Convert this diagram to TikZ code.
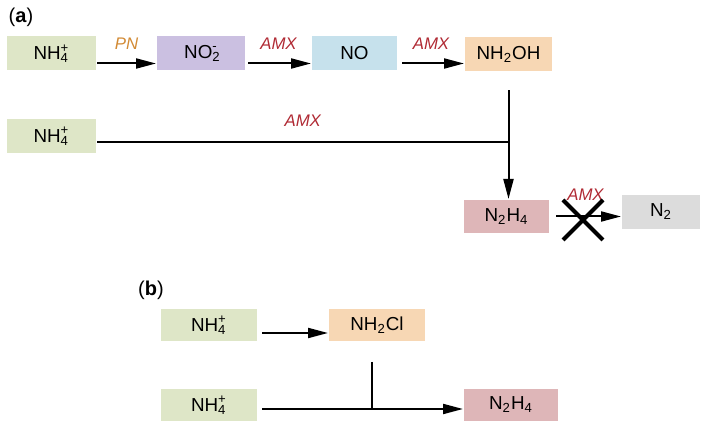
\documentclass[tikz,border=0pt]{standalone}
\usepackage{fontspec}
\setmainfont{Liberation Sans}
\usepackage{tikz}
\usetikzlibrary{positioning,arrows.meta,shapes.misc}

\definecolor{ammgreen}{RGB}{222,230,199}
\definecolor{nitpurple}{RGB}{203,192,225}
\definecolor{noblue}{RGB}{198,225,236}
\definecolor{hydorange}{RGB}{247,215,180}
\definecolor{hzpink}{RGB}{222,182,184}
\definecolor{ntgray}{RGB}{220,220,220}
\definecolor{amxred}{RGB}{176,42,52}
\definecolor{pnorange}{RGB}{210,138,52}

\newcommand{\stk}[2]{\rlap{\textsubscript{#1}}\textsuperscript{#2}}

\begin{document}
\begin{tikzpicture}[
  x=0.5pt, y=-0.5pt,
  chem/.style={minimum width=44pt, minimum height=17pt, inner sep=0pt,
               font=\fontsize{9.4}{11}\selectfont},
  enz/.style={font=\fontsize{8.4}{10}\selectfont\itshape, text=amxred},
  tag/.style={font=\fontsize{10}{12}\selectfont},
  >={Triangle[length=10pt,width=5pt]},
  line width=1pt
]
  \useasboundingbox (0,0) rectangle (703,421);

  % (a)
  \node[tag] (pa) at (21,17) {(\textbf{a})};
  \node[chem, fill=ammgreen, minimum width=44.5pt] (nha) at (51.5,53.5) {NH\stk{4}{+}};
  \node[chem, fill=nitpurple] (noa)  at (201,53.5)   {NO\stk{2}{-}};
  \node[chem, fill=noblue, minimum width=42.5pt] (no) at (354.5,53.5) {NO};
  \node[chem, fill=hydorange, minimum width=43.5pt] (nhoh) at (508.5,54.5) {NH\textsubscript{2}OH};
  \node[chem, fill=ammgreen, minimum width=44.5pt] (nhb) at (51.5,136) {NH\stk{4}{+}};
  \node[chem, fill=hzpink, minimum width=42.5pt, minimum height=16.5pt] (nhh) at (506.5,216.5) {N\textsubscript{2}H\textsubscript{4}};
  \node[chem, fill=ntgray, minimum width=39pt] (ntwo) at (661,212) {N\textsubscript{2}};

  \draw[->] ([yshift=-5pt]nha.east) -- node[above=3pt, enz, text=pnorange] {PN} ([yshift=-5pt]noa.west);
  \draw[->, shorten <=1pt] ([yshift=-5pt]noa.east) -- node[above=3pt, enz] {AMX} ([yshift=-5pt]no.west);
  \draw[->, shorten <=2pt] ([yshift=-5pt]no.east) -- node[above=3pt, enz] {AMX} ([yshift=-5pt]no.east -| nhoh.west);

  \coordinate (ja) at ([yshift=-3pt]nhb.east -| nhoh.south);
  \draw ([yshift=-3pt]nhb.east) -- node[above=4pt, enz] {AMX} (ja);
  \draw[->] ([yshift=-9pt]nhoh.south) -- (nhoh.south |- nhh.north);

  \draw[->, shorten <=3pt] (nhh.east) -- node[above=4pt, enz] {AMX} (nhh.east -| ntwo.west);
  \node[cross out, draw, line width=2pt, minimum size=18pt, inner sep=0pt] (xa) at (583,220) {};

  % (b)
  \node[tag] (pb) at (151,290) {(\textbf{b})};
  \node[chem, fill=ammgreen, minimum width=48pt, minimum height=16pt] (nhc)  at (209,325) {NH\stk{4}{+}};
  \node[chem, fill=hydorange, minimum width=48pt, minimum height=16pt] (nhcl) at (377,325) {NH\textsubscript{2}Cl};
  \node[chem, fill=ammgreen, minimum width=48pt, minimum height=16pt] (nhd)  at (209,405) {NH\stk{4}{+}};
  \node[chem, fill=hzpink, minimum width=47pt, minimum height=16pt] (nhhb) at (511,405) {N\textsubscript{2}H\textsubscript{4}};

  \draw[->, shorten <=2pt] ([yshift=-4pt]nhc.east) -- ([yshift=-4pt]nhcl.west);
  \coordinate (jb) at ([xshift=-2.5pt,yshift=-2pt]nhcl.south |- nhd.east);
  \draw ([xshift=-2.5pt,yshift=-10pt]nhcl.south) -- (jb);
  \draw[->, shorten <=2pt] ([yshift=-2pt]nhd.east) -- ([yshift=-2pt]nhhb.west);
\end{tikzpicture}
\end{document}
